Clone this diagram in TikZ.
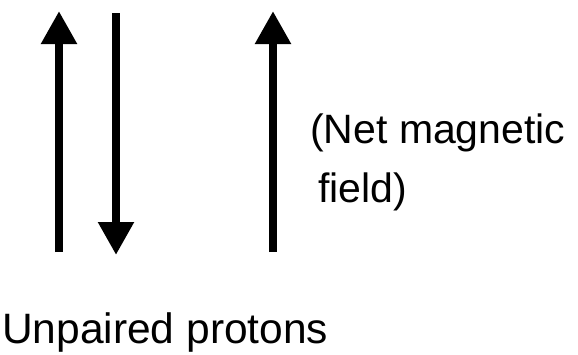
\documentclass[tikz,border=0pt]{standalone}
\usepackage{fontspec}
\setmainfont{Liberation Sans}
\usetikzlibrary{arrows.meta}
\begin{document}
\begin{tikzpicture}[x=1pt,y=-1pt,
  spin/.style={line width=8.5pt,-{Triangle[length=33pt,width=34pt]}},
  lbl/.style={anchor=base west,inner sep=0pt,font=\fontsize{41}{48}\selectfont}]
\useasboundingbox (0,0) rectangle (578,354);
\coordinate (a1s) at (59,252); \coordinate (a1e) at (59,11);
\coordinate (a2s) at (116,13); \coordinate (a2e) at (116,255);
\coordinate (a3s) at (273,252); \coordinate (a3e) at (273,11);
\draw[spin] (a1s) -- (a1e);
\draw[spin] (a2s) -- (a2e);
\draw[spin] (a3s) -- (a3e);
\node[lbl] (net) at (310,143) {(Net magnetic};
\node[lbl] (field) at (318,202) {field)};
\node[lbl,font=\fontsize{42.5}{50}\selectfont] (unp) at (2,343) {Unpaired protons};
\end{tikzpicture}
\end{document}
